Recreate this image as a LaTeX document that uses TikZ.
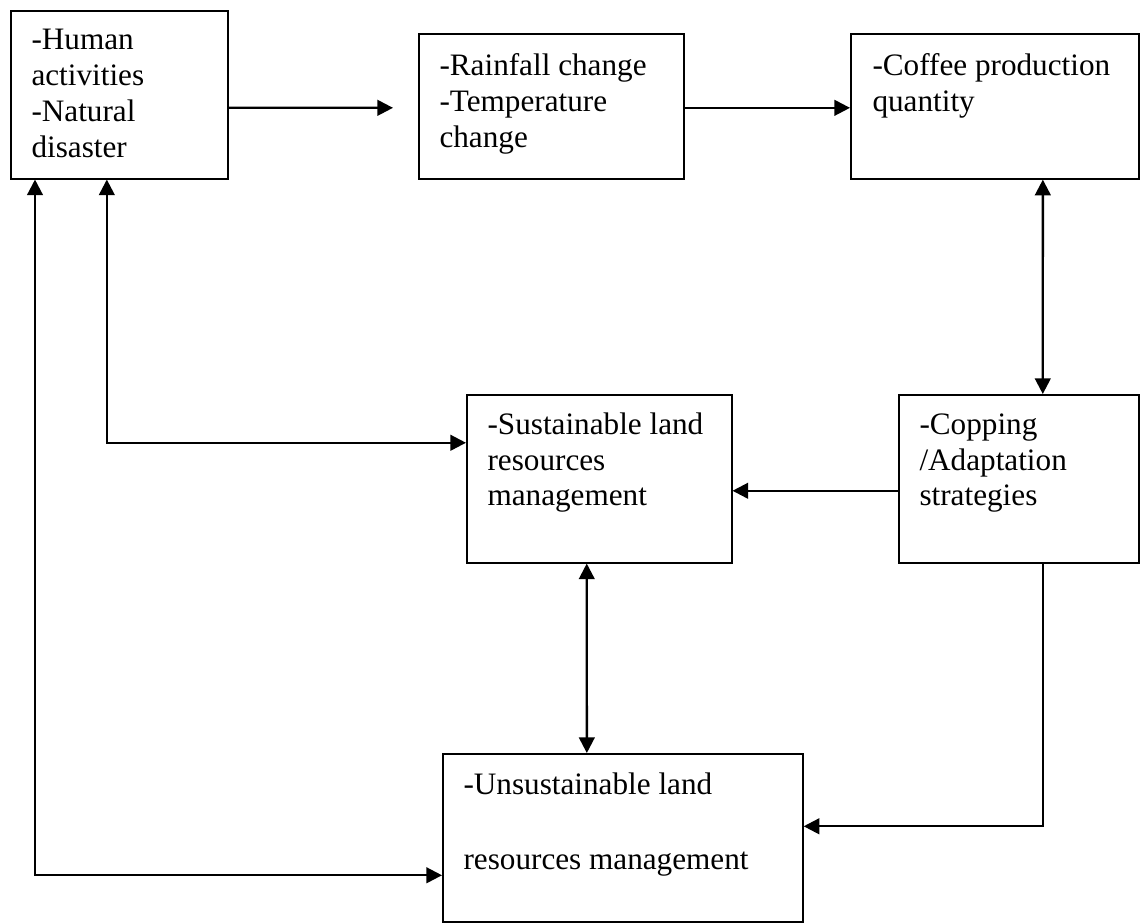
\documentclass[tikz,border=0pt]{standalone}
\usepackage{fontspec}
\setmainfont{Liberation Serif}
\usetikzlibrary{arrows.meta, calc}

\begin{document}
\begin{tikzpicture}[x=0.3846pt, y=-0.3846pt,
    box/.style={draw, line width=0.6pt, rectangle, anchor=north west, inner sep=0pt},
    txt/.style={font=\fontsize{12}{13.8}\selectfont, align=left, inner sep=0pt, anchor=north west},
    arr/.style={line width=0.9pt, -{Triangle[length=6pt,width=6pt]}},
    dblarr/.style={line width=0.9pt, {Triangle[length=6pt,width=6pt]}-{Triangle[length=6pt,width=6pt]}}]
   \useasboundingbox (0,0) rectangle (1140,923);
   % boxes
   \node[box, minimum width=83.5pt, minimum height=64.6pt] (human) at (10,10) {};
   \node[box, minimum width=101.9pt, minimum height=55.8pt] (rain) at (418,33) {};
   \node[box, minimum width=110.8pt, minimum height=55.8pt] (coffee) at (850,33) {};
   \node[box, minimum width=101.9pt, minimum height=64.6pt] (sust) at (466,394) {};
   \node[box, minimum width=92.3pt, minimum height=64.6pt] (cop) at (898,394) {};
   \node[box, minimum width=138.5pt, minimum height=64.6pt] (unsust) at (442,753) {};
   % texts (top of first line)
   \node[txt] (humantxt) at (31,29) {-Human\\activities\\-Natural\\disaster};
   \node[txt] (raintxt) at (439,53) {-Rainfall change\\-Temperature\\change};
   \node[txt] (coffeetxt) at (872,53) {-Coffee production\\quantity};
   \node[txt] (susttxt) at (487,412) {-Sustainable land\\resources\\management};
   \node[txt] (coptxt) at (919,413) {-Copping\\/Adaptation\\strategies};
   \node[txt] (unsusttxt) at (463,772) {-Unsustainable land\\[15pt]resources management};
   % arrows
   \draw[arr] ($(human.east)+(0,13)$) -- ($(rain.west)+(-25,1.5)$);
   \draw[arr] ($(rain.east)+(0,1.5)$) -- ($(coffee.west)+(0,1.5)$);
   \draw[dblarr] ($(coffee.south)+(48,0)$) -- ($(cop.north)+(24,0)$);
   \draw[arr] ($(cop.west)+(0,12)$) -- ($(sust.east)+(0,12)$);
   \draw[dblarr] ($(human.south)+(-12.5,0)$) |- ($(sust.west)+(0,-36)$);
   \draw[dblarr] ($(human.south west)+(25,0)$) |- ($(unsust.west)+(0,37.5)$);
   \draw[dblarr] ($(sust.south)+(-12.5,0)$) -- ($(unsust.north)+(-36,0)$);
   \draw[arr] ($(cop.south)+(24,0)$) |- ($(unsust.east)+(0,-11.5)$);
\end{tikzpicture}
\end{document}
